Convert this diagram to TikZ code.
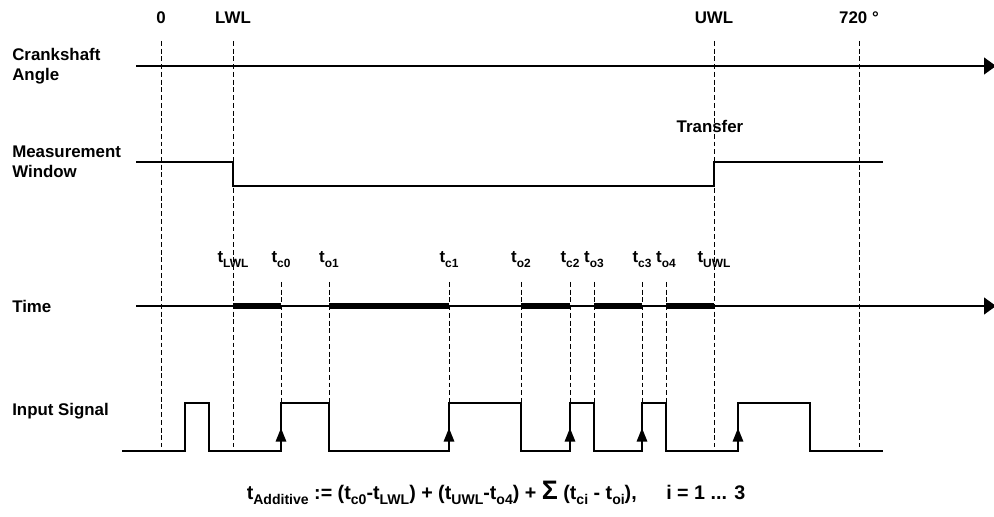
\documentclass[tikz,border=0pt]{standalone}
\usepackage{fontspec}
\setmainfont{Liberation Sans}
\usepackage{tikz}
\usetikzlibrary{arrows.meta}
\newcommand{\tsub}[1]{t\raisebox{-3pt}{\fontsize{8.5}{8.5}\selectfont #1}}
\newcommand{\tbig}[1]{t\raisebox{-3.5pt}{\fontsize{10}{10}\selectfont #1}}
\tikzset{
  lbl/.style={font=\fontsize{12}{14.4}\selectfont\bfseries,inner sep=0pt},
  formula/.style={font=\fontsize{14}{16}\selectfont\bfseries,inner sep=0pt},
  axis/.style={line width=1.4pt,-{Triangle[length=0.3cm,width=0.42cm]}},
  sig/.style={line width=1.3pt,line join=miter},
  guide/.style={line width=0.6pt,dash pattern=on 3.5pt off 2pt},
  bar/.style={line width=4.5pt},
  edgearr/.style={line width=1.3pt,-{Triangle[length=0.34cm,width=0.26cm]}}
}
\begin{document}
\begin{tikzpicture}[x=1cm,y=1cm]
    \path[use as bounding box] (0,0) rectangle (24.85,12.9);

    \node[lbl,anchor=west,align=left] (crank) at (0.3,11.25) {Crankshaft\\Angle};
    \node[lbl,anchor=west,align=left] (window) at (0.3,8.85) {Measurement\\Window};
    \node[lbl,anchor=west] (time) at (0.3,5.25) {Time};
    \node[lbl,anchor=west] (input) at (0.3,2.625) {Input Signal};

    \foreach \x/\name/\lab in {4.025/zero/0, 5.825/lwl/LWL, 17.85/uwl/UWL, 21.475/full/720 °}{
      \draw[guide] (\x,11.875) -- (\x,1.725);
      \node[lbl,anchor=base] (\name) at (\x,12.3) {\lab};
    }

    \draw[axis] (3.4,11.25) -- (24.9,11.25);
    \draw[sig] (3.4,8.85) -- (5.825,8.85) -- (5.825,8.25) -- (17.85,8.25)
      -- (17.85,8.85) -- (22.075,8.85);
    \node[lbl,anchor=base] (transfer) at (17.75,9.575) {Transfer};

    \draw[axis] (3.4,5.25) -- (24.9,5.25);
    \foreach \a/\b in {5.825/7.025, 8.225/11.225, 13.025/14.25, 14.85/16.05, 16.65/17.85}
      \draw[bar] (\a,5.25) -- (\b,5.25);
    \foreach \x/\lab in {7.025/c0, 8.225/o1, 11.225/c1, 13.025/o2, 14.25/c2,
                         14.85/o3, 16.05/c3, 16.65/o4}{
      \draw[guide] (\x,5.85) -- (\x,2.825);
      \node[lbl,anchor=base] (t\lab) at (\x,6.325) {\tsub{\lab}};
    }
    \node[lbl,anchor=base] (tLWL) at (5.825,6.325) {\tsub{LWL}};
    \node[lbl,anchor=base] (tUWL) at (17.85,6.325) {\tsub{UWL}};

    \draw[sig] (3.05,1.625) -- (4.625,1.625) -- (4.625,2.825) -- (5.225,2.825)
      -- (5.225,1.625) -- (7.025,1.625) -- (7.025,2.825) -- (8.225,2.825)
      -- (8.225,1.625) -- (11.225,1.625) -- (11.225,2.825) -- (13.025,2.825)
      -- (13.025,1.625) -- (14.25,1.625) -- (14.25,2.825) -- (14.85,2.825)
      -- (14.85,1.625) -- (16.05,1.625) -- (16.05,2.825) -- (16.65,2.825)
      -- (16.65,1.625) -- (18.45,1.625) -- (18.45,2.825) -- (20.25,2.825)
      -- (20.25,1.625) -- (22.075,1.625);
    \foreach \x in {7.025,11.225,14.25,16.05,18.45}
      \draw[edgearr] (\x,1.625) -- (\x,2.2);

    \node[formula,anchor=base] (sum) at (12.4,0.42)
      {\tbig{Additive} := (\tbig{c0}-\tbig{LWL}) + (\tbig{UWL}-\tbig{o4})
       + {\fontsize{19}{19}\selectfont Σ} (\tbig{ci} - \tbig{oi}),\hspace{1.5em}i = 1 ... 3};
\end{tikzpicture}
\end{document}
